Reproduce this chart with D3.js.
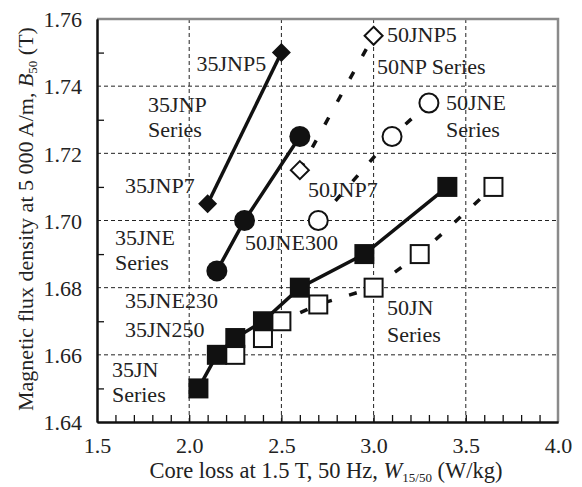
<!DOCTYPE html>
<html>
<head>
<meta charset="utf-8">
<script src="https://cdn.jsdelivr.net/npm/d3@7"></script>
<style>
  body { margin: 0; background: #fff; }
  text { font-family: "Liberation Serif", "Times New Roman", serif; fill: #222; }
</style>
</head>
<body>
<svg id="chart"></svg>
<script>
// series values: [core loss W15/50, B50]
const jnp35 = [[2.1, 1.705], [2.5, 1.75]];
const jne35 = [[2.15, 1.685], [2.3, 1.70], [2.6, 1.725]];
const jn35 = [[2.05, 1.65], [2.15, 1.66], [2.25, 1.665], [2.4, 1.67], [2.6, 1.68], [2.95, 1.69], [3.4, 1.71]];
const jn50 = [[2.25, 1.66], [2.4, 1.665], [2.5, 1.67], [2.7, 1.675], [3.0, 1.68], [3.25, 1.69], [3.65, 1.71]];
const jne50 = [[2.7, 1.70], [3.1, 1.725], [3.3, 1.735]];
const jnp50 = [[2.6, 1.715], [3.0, 1.755]];

// tick labels
const xTicks = [1.5, 2.0, 2.5, 3.0, 3.5, 4.0];
const yTicks = [1.64, 1.66, 1.68, 1.70, 1.72, 1.74, 1.76];

// annotation texts, anchored in data units
const labels = [
    ["35JNP5", 2.04, 1.7445],
    ["35JNP", 1.777, 1.7323], ["Series", 1.777, 1.7249],
    ["35JNP7", 1.652, 1.7082],
    ["35JNE", 1.598, 1.6927], ["Series", 1.598, 1.6853],
    ["35JNE230", 1.652, 1.674],
    ["35JN250", 1.652, 1.6654],
    ["35JN", 1.581, 1.6535], ["Series", 1.581, 1.646],
    ["50JNP5", 3.073, 1.7532],
    ["50NP Series", 3.018, 1.7436],
    ["50JNE", 3.393, 1.7329], ["Series", 3.393, 1.7249],
    ["50JNP7", 2.644, 1.707],
    ["50JNE300", 2.303, 1.6913],
    ["50JN", 3.073, 1.6719], ["Series", 3.073, 1.6639]
];

let width = 582, height = 487;
let padding = { top: 19, right: 24, bottom: 65, left: 97 };
let fontSize = 22;

let svg = d3.select("#chart")
            .attr("width", width)
            .attr("height", height);

let xScale = d3.scaleLinear()
                .domain([1.5, 4.0])
                .range([padding.left, width - padding.right]);

let yScale = d3.scaleLinear()
                .domain([1.64, 1.76])
                .range([height - padding.bottom, padding.top]);

let x0 = xScale.range()[0], x1 = xScale.range()[1];
let y0 = yScale.range()[0], y1 = yScale.range()[1];

// dashed grid lines at inner major ticks
let grid = svg.append("g").attr("class", "grid");
grid.selectAll(".gx")
    .data(xTicks.slice(1, -1))
    .enter().append("line")
        .attr("x1", d => xScale(d)).attr("x2", d => xScale(d))
        .attr("y1", y1).attr("y2", y0);
grid.selectAll(".gy")
    .data(yTicks.slice(1, -1))
    .enter().append("line")
        .attr("y1", d => yScale(d)).attr("y2", d => yScale(d))
        .attr("x1", x0).attr("x2", x1);
grid.selectAll("line")
    .attr("stroke", "#222")
    .attr("stroke-width", 1)
    .attr("stroke-dasharray", "4,3");

// top and right frame (gray)
svg.append("path")
    .attr("d", `M${x0},${y1}H${x1}V${y0}`)
    .attr("fill", "none")
    .attr("stroke", "#8a8a8a")
    .attr("stroke-width", 2.5);

// minor ticks pointing inward
let xMinor = d3.range(16, 40).map(d => d / 10);
let yMinor = d3.range(165, 176).map(d => d / 100);

let xAxis = d3.axisBottom(xScale)
                .tickValues(xTicks)
                .tickSize(0)
                .tickPadding(15)
                .tickFormat(d3.format(".1f"));
let gx = svg.append("g")
    .attr("transform", `translate(0,${y0})`)
    .call(xAxis);
gx.append("g")
    .call(d3.axisBottom(xScale).tickValues(xMinor).tickSizeInner(-7).tickSizeOuter(0).tickFormat(""));

let yAxis = d3.axisLeft(yScale)
                .tickValues(yTicks)
                .tickSize(0)
                .tickPadding(15)
                .tickFormat(d3.format(".2f"));
let gy = svg.append("g")
    .attr("transform", `translate(${x0},0)`)
    .call(yAxis);
gy.append("g")
    .call(d3.axisLeft(yScale).tickValues(yMinor.filter(d => Math.abs(d * 50 - Math.round(d * 50)) > 1e-6)).tickSizeInner(-7).tickSizeOuter(0).tickFormat(""));

svg.selectAll(".domain").attr("stroke", "#111").attr("stroke-width", 2);
svg.selectAll(".tick line").attr("stroke", "#111").attr("stroke-width", 1.3);
svg.selectAll(".tick text")
    .style("font-family", "'Liberation Serif', serif")
    .style("font-size", fontSize + "px")
    .attr("fill", "#222");
gy.selectAll(".tick text").attr("dy", "0.35em");

// axis titles
let xTitle = svg.append("text")
    .attr("x", 326)
    .attr("y", 478)
    .style("text-anchor", "middle")
    .style("font-size", "22.5px");
xTitle.append("tspan").text("Core loss at 1.5 T, 50 Hz, ");
xTitle.append("tspan").style("font-style", "italic").text("W");
xTitle.append("tspan").attr("dy", 4).style("font-size", "13px").text("15/50");
xTitle.append("tspan").attr("dy", -4).text(" (W/kg)");

let yTitle = svg.append("text")
    .attr("transform", "rotate(-90)")
    .attr("x", -219)
    .attr("y", 33)
    .style("text-anchor", "middle")
    .style("font-size", "22px");
yTitle.append("tspan").text("Magnetic flux density at 5 000 A/m, ");
yTitle.append("tspan").style("font-style", "italic").text("B");
yTitle.append("tspan").attr("dy", 4).style("font-size", "13px").text("50");
yTitle.append("tspan").attr("dy", -4).text(" (T)");

// series lines
let line = d3.line()
    .x(d => xScale(d[0]))
    .y(d => yScale(d[1]));

let diamond = r => `M0,${-r}L${r},0L0,${r}L${-r},0Z`;

let dashed = svg.append("g");
[jn50, jne50, jnp50].forEach(s => {
    dashed.append("path")
        .datum(s)
        .attr("d", line)
        .attr("fill", "none")
        .attr("stroke", "#111")
        .attr("stroke-width", 3.5)
        .attr("stroke-dasharray", "8,18");
});

// open markers
let open = svg.append("g")
    .attr("fill", "#fff")
    .attr("stroke", "#111")
    .attr("stroke-width", 2);
open.selectAll("rect")
    .data(jn50)
    .enter().append("rect")
        .attr("x", d => xScale(d[0]) - 9)
        .attr("y", d => yScale(d[1]) - 9)
        .attr("width", 18).attr("height", 18);
open.selectAll("circle")
    .data(jne50)
    .enter().append("circle")
        .attr("cx", d => xScale(d[0]))
        .attr("cy", d => yScale(d[1]))
        .attr("r", 9.5);
open.selectAll("path")
    .data(jnp50)
    .enter().append("path")
        .attr("d", diamond(9))
        .attr("transform", d => `translate(${xScale(d[0])},${yScale(d[1])})`);

let solid = svg.append("g");
[jn35, jne35, jnp35].forEach(s => {
    solid.append("path")
        .datum(s)
        .attr("d", line)
        .attr("fill", "none")
        .attr("stroke", "#111")
        .attr("stroke-width", 3.5);
});

// filled markers
let filled = svg.append("g").attr("fill", "#111");
filled.selectAll("rect")
    .data(jn35)
    .enter().append("rect")
        .attr("x", d => xScale(d[0]) - 10)
        .attr("y", d => yScale(d[1]) - 10)
        .attr("width", 20).attr("height", 20);
filled.selectAll("circle")
    .data(jne35)
    .enter().append("circle")
        .attr("cx", d => xScale(d[0]))
        .attr("cy", d => yScale(d[1]))
        .attr("r", 10.5);
filled.selectAll("path")
    .data(jnp35)
    .enter().append("path")
        .attr("d", diamond(9.5))
        .attr("transform", d => `translate(${xScale(d[0])},${yScale(d[1])})`);

// annotations
svg.append("g")
    .selectAll("text")
    .data(labels)
    .enter().append("text")
        .attr("x", d => xScale(d[1]))
        .attr("y", d => yScale(d[2]))
        .style("font-size", fontSize + "px")
        .text(d => d[0]);
</script>
</body>
</html>
